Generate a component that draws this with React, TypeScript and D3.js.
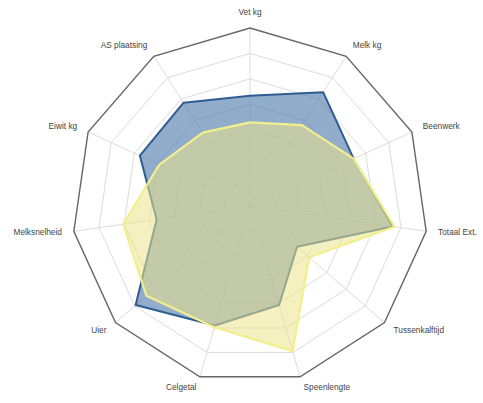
import React from "react";
import * as d3 from "d3";

const categories = [
  "Vet kg", "Melk kg", "Beenwerk", "Totaal Ext.", "Tussenkalftijd", "Speenlengte",
  "Celgetal", "Uier", "Melksnelheid", "Eiwit kg", "AS plaatsing",
];
const seriesBlue = [62, 76, 64, 81, 35, 58, 70, 85, 53, 68, 69];
const seriesYellow = [47, 54, 64, 82, 44, 85, 71, 77, 72, 56, 49];
const ringValues = [100 / 7, 200 / 7, 300 / 7, 400 / 7, 500 / 7, 600 / 7, 100];

const W = 483, H = 403;
const cx = 250, cy = 206, R = 178;

export default function App() {
  const n = categories.length;
  const angle = (i: number) => (i * 2 * Math.PI) / n;
  const r = d3.scaleLinear().domain([0, 100]).range([0, R]);
  const pt = (i: number, v: number): [number, number] => [
    cx + r(v) * Math.sin(angle(i)),
    cy - r(v) * Math.cos(angle(i)),
  ];
  const line = d3.line<[number, number]>().curve(d3.curveLinearClosed);
  const poly = (vals: number[]) => line(vals.map((v, i) => pt(i, v))) || "";

  return (
    <svg width={W} height={H} style={{ position: "absolute", left: 0, top: 0, background: "#fff" }}
      fontFamily="'Liberation Sans', Arial, sans-serif">
      {ringValues.slice(0, -1).map((rv, k) => (
        <path key={k} d={poly(categories.map(() => rv))} fill="none" stroke="#dcdcdc" strokeWidth={1} />
      ))}
      {categories.map((c, i) => {
        const [x, y] = pt(i, 100);
        return <line key={c} x1={cx} y1={cy} x2={x} y2={y} stroke="#dcdcdc" strokeWidth={1} />;
      })}
      <path d={poly(categories.map(() => 100))} fill="none" stroke="#666" strokeWidth={1.4} />
      <path d={poly(seriesBlue)} fill="#4a74a8" fillOpacity={0.6} stroke="#2f5d93" strokeWidth={2} strokeLinejoin="round" />
      <path d={poly(seriesYellow)} fill="#ebe38a" fillOpacity={0.55} stroke="#f2ef8c" strokeWidth={2.2} strokeLinejoin="round" />
      {categories.map((c, i) => {
        const a = angle(i);
        const s = Math.sin(a), co = Math.cos(a);
        const [x, y] = pt(i, 100 + 12 / R * 100);
        const anchor = s > 0.1 ? "start" : s < -0.1 ? "end" : "middle";
        return (
          <text key={c} x={x} y={i === 0 ? y - 3 : y} textAnchor={anchor} dominantBaseline="middle"
            fontSize={8.3} fill="#444">{c}</text>
        );
      })}
    </svg>
  );
}
